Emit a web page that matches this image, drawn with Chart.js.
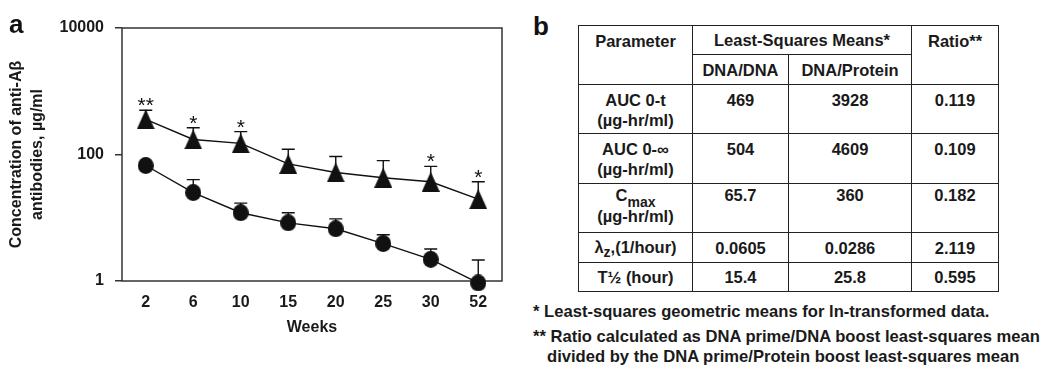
<!DOCTYPE html>
<html>
<head>
<meta charset="utf-8">
<script src="https://cdn.jsdelivr.net/npm/chart.js@4/dist/chart.umd.min.js"></script>
<style>
  body { margin: 0; background: #fff; font-family: 'Liberation Sans', Arial, sans-serif; }
  #wrap { position: relative; width: 1050px; height: 376px; overflow: hidden; }
  #chartBox { position: absolute; left: 0; top: 0; width: 520px; height: 376px; }
  .panel { position: absolute; font-weight: bold; font-size: 26px; color: #111; }
  table { position: absolute; left: 578px; top: 25px; width: 420px; border-collapse: collapse; table-layout: fixed;
          font-size: 16.5px; font-weight: bold; color: #1a1a1a; }
  td { border: 1.5px solid #222; text-align: center; vertical-align: top; padding: 5px 0 0 0; line-height: 20px; }
  td.mid { vertical-align: middle; padding: 0; }
  .sub { font-size: 14px; position: relative; top: 6px; }
  .note { position: absolute; font-size: 16.6px; font-weight: bold; color: #1a1a1a; white-space: nowrap; }
</style>
</head>
<body>
<div id="wrap">
  <div id="chartBox"><canvas id="concChart"></canvas></div>
  <div class="panel" style="left:9px; top:9px;">a</div>
  <div class="panel" style="left:533px; top:11px;">b</div>

  <table>
    <colgroup><col style="width:114px"><col style="width:96px"><col style="width:123px"><col style="width:87px"></colgroup>
    <tr style="height:29px">
      <td rowspan="2">Parameter</td>
      <td colspan="2" class="mid">Least-Squares Means*</td>
      <td rowspan="2">Ratio**</td>
    </tr>
    <tr style="height:30px"><td class="mid">DNA/DNA</td><td class="mid">DNA/Protein</td></tr>
    <tr style="height:49px"><td>AUC 0-t<br>(µg-hr/ml)</td><td>469</td><td>3928</td><td>0.119</td></tr>
    <tr style="height:50px"><td>AUC 0-∞<br>(µg-hr/ml)</td><td>504</td><td>4609</td><td>0.109</td></tr>
    <tr style="height:49px"><td style="padding-top:1px">C<span class="sub">max</span><br>(µg-hr/ml)</td><td style="padding-top:1px">65.7</td><td style="padding-top:1px">360</td><td style="padding-top:1px">0.182</td></tr>
    <tr style="height:30px"><td class="mid">λ<span class="sub" style="top:4px">z</span>,(1/hour)</td><td class="mid">0.0605</td><td class="mid">0.0286</td><td class="mid">2.119</td></tr>
    <tr style="height:29px"><td class="mid">T½ (hour)</td><td class="mid">15.4</td><td class="mid">25.8</td><td class="mid">0.595</td></tr>
  </table>

  <div class="note" style="left:533px; top:302px;">* Least-squares geometric means for ln-transformed data.</div>
  <div class="note" style="left:533px; top:327px;">** Ratio calculated as DNA prime/DNA boost least-squares mean</div>
  <div class="note" style="left:547px; top:347px;">divided by the DNA prime/Protein boost least-squares mean</div>
</div>

<script>
// data (weeks after immunization)
const weeks = ['2', '6', '10', '15', '20', '25', '30', '52'];
const proteinMean = [360, 173, 150, 71, 52, 43, 37, 19.7];
const proteinUpper = [500, 265, 230, 121, 93, 80, 65, 37];
const dnaMean = [67, 25, 12, 8.3, 6.7, 3.9, 2.2, 0.93];
const dnaUpper = [null, 40, 17, 12, 9.6, 5.4, 3.2, 2.15];
const sigMarks = ['**', '*', '*', '', '', '', '*', '*'];
const yTicks = [1, 100, 10000];

Chart.defaults.font.family = "'Liberation Sans', Arial, sans-serif";
Chart.defaults.color = '#1a1a1a';

// marker shapes: slightly tall triangle and ellipse like the scan
function makeMarker(kind, w, h) {
  const c = document.createElement('canvas');
  c.width = w;
  c.height = h;
  const g = c.getContext('2d');
  g.fillStyle = '#111';
  g.beginPath();
  if (kind === 'tri') {
    g.moveTo(w / 2, 0);
    g.lineTo(w, h);
    g.lineTo(0, h);
    g.closePath();
  } else {
    g.ellipse(w / 2, h / 2, w / 2, h / 2, 0, 0, Math.PI * 2);
  }
  g.fill();
  return c;
}
const triMarker = makeMarker('tri', 18, 20);
const dotMarker = makeMarker('dot', 16, 17);

// upper error bars, significance stars and the box around the plot
const errorBars = {
  id: 'errorBars',
  beforeDatasetsDraw(chart) {
    const {ctx, chartArea, scales: {x, y}} = chart;
    ctx.save();
    ctx.strokeStyle = '#333';
    ctx.lineWidth = 1.5;
    ctx.strokeRect(chartArea.left, chartArea.top, chartArea.right - chartArea.left, chartArea.bottom - chartArea.top);

    ctx.strokeStyle = '#111';
    ctx.lineWidth = 1.4;
    [[proteinMean, proteinUpper], [dnaMean, dnaUpper]].forEach(([mean, upper]) => {
      mean.forEach((v, i) => {
        if (upper[i] == null) return;
        const px = x.getPixelForValue(i);
        const y0 = y.getPixelForValue(v);
        const y1 = y.getPixelForValue(upper[i]);
        ctx.beginPath();
        ctx.moveTo(px, y0);
        ctx.lineTo(px, y1);
        ctx.moveTo(px - 6.5, y1);
        ctx.lineTo(px + 6.5, y1);
        ctx.stroke();
      });
    });

    ctx.fillStyle = '#111';
    ctx.font = "21px 'Liberation Sans', Arial, sans-serif";
    ctx.textAlign = 'center';
    ctx.textBaseline = 'alphabetic';
    sigMarks.forEach((s, i) => {
      if (!s) return;
      const top = y.getPixelForValue(Math.max(proteinUpper[i], proteinMean[i]));
      ctx.fillText(s, x.getPixelForValue(i), top + 2);
    });
    ctx.restore();
  }
};

new Chart(document.getElementById('concChart'), {
  type: 'line',
  data: {
    labels: weeks,
    datasets: [{
      label: 'DNA prime / Protein boost',
      data: proteinMean,
      borderColor: '#111',
      backgroundColor: '#111',
      borderWidth: 1.4,
      pointStyle: triMarker,
      clip: false
    }, {
      label: 'DNA prime / DNA boost',
      data: dnaMean,
      borderColor: '#111',
      backgroundColor: '#111',
      borderWidth: 1.4,
      pointStyle: dotMarker,
      clip: false
    }]
  },
  options: {
    responsive: true,
    maintainAspectRatio: false,
    animation: false,
    layout: { padding: { left: 0, top: 28, right: 18, bottom: 35 } },
    plugins: {
      legend: { display: false },
      tooltip: { enabled: false }
    },
    scales: {
      x: {
        type: 'category',
        offset: true,
        grid: { display: false, drawTicks: false },
        border: { display: false },
        ticks: { padding: 12, font: { size: 16, weight: 'bold' }, maxRotation: 0 },
        title: {
          display: true,
          text: 'Weeks',
          font: { size: 16, weight: 'bold' },
          padding: { top: 0, bottom: 4 }
        },
        afterFit: (scale) => { scale.height = 60; }
      },
      y: {
        type: 'logarithmic',
        min: 1,
        max: 10000,
        grid: { drawOnChartArea: false, drawTicks: true, tickLength: 7, color: '#333', lineWidth: 1.5 },
        border: { display: false },
        afterBuildTicks: (scale) => { scale.ticks = yTicks.map(v => ({ value: v })); },
        ticks: {
          padding: 11,
          font: { size: 16, weight: 'bold' },
          callback: (v) => String(v)
        },
        title: {
          display: true,
          text: ['Concentration of anti-Aβ', 'antibodies, µg/ml'],
          font: { size: 16, weight: 'bold', lineHeight: 1.3 },
          padding: { top: 6, bottom: 0 }
        },
        afterFit: (scale) => { scale.width = 122; }
      }
    }
  },
  plugins: [errorBars]
});
</script>
</body>
</html>
